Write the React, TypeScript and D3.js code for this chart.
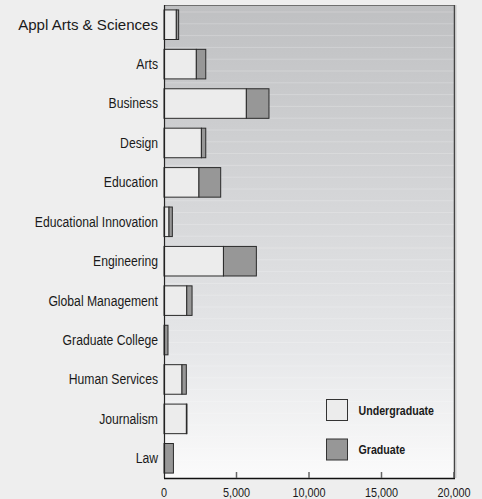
import React from "react";
import * as d3 from "d3";

const categories = [
  "Appl Arts & Sciences",
  "Arts",
  "Business",
  "Design",
  "Education",
  "Educational Innovation",
  "Engineering",
  "Global Management",
  "Graduate College",
  "Human Services",
  "Journalism",
  "Law",
];
const undergraduate = [850, 2230, 5680, 2580, 2410, 345, 4100, 1570, 0, 1240, 1545, 0];
const graduate = [160, 650, 1560, 300, 1500, 230, 2270, 365, 275, 300, 40, 650];
const xTicks = [0, 5000, 10000, 15000, 20000];
const seriesNames = ["Undergraduate", "Graduate"];
const seriesColors = ["#ececec", "#979797"];

const W = 482;
const H = 499;
const M = { left: 164, right: 28, top: 5, bottom: 21 };
const FONT = "'Liberation Sans', Arial, sans-serif";

export default function App() {
  const x = d3.scaleLinear().domain([0, 20000]).range([M.left, W - M.right]);
  const y = d3
    .scaleBand<string>()
    .domain(categories)
    .range([M.top, H - M.bottom])
    .paddingInner(0.25)
    .paddingOuter(0.125);
  const rows = categories.map((c, i) => ({ c, u: undergraduate[i], g: graduate[i] }));
  const stripes = d3.range(M.top + 7, H - M.bottom, 11.8);
  return (
    <svg
      width={W}
      height={H}
      style={{ position: "absolute", left: 0, top: 0, display: "block" }}
      fontFamily={FONT}
    >
      <defs>
        <linearGradient id="bg" x1="0" y1="0" x2="0" y2="1">
          <stop offset="0" stopColor="#bfc0c2" />
          <stop offset="0.3" stopColor="#cfd0d2" />
          <stop offset="0.73" stopColor="#e6e7e9" />
          <stop offset="1" stopColor="#fbfbfb" />
        </linearGradient>
      </defs>
      <rect x={0} y={0} width={W} height={H} fill="#eeeeee" />
      <rect
        x={M.left}
        y={M.top}
        width={W - M.left - M.right}
        height={H - M.top - M.bottom}
        fill="url(#bg)"
      />
      {stripes.map((s, i) => (
        <line
          key={i}
          x1={M.left}
          x2={W - M.right}
          y1={s}
          y2={s}
          stroke="#ffffff"
          strokeOpacity={0.22}
          strokeWidth={1}
        />
      ))}
      {/* frame */}
      <line x1={M.left} x2={W - M.right} y1={M.top + 0.5} y2={M.top + 0.5} stroke="#6f6f6f" />
      <line
        x1={W - M.right + 0.5}
        x2={W - M.right + 0.5}
        y1={M.top}
        y2={H - M.bottom}
        stroke="#444"
        strokeWidth={1.5}
      />
      <line
        x1={W - M.right + 2}
        x2={W - M.right + 2}
        y1={M.top}
        y2={H - M.bottom}
        stroke="#c8c8c8"
        strokeWidth={1}
      />
      {/* bars */}
      {rows.map((r) => {
        const yy = y(r.c)!;
        const bh = y.bandwidth();
        return (
          <g key={r.c}>
            {r.u > 0 && (
              <rect
                x={x(0)}
                y={yy}
                width={x(r.u) - x(0)}
                height={bh}
                fill={seriesColors[0]}
                stroke="#2a2a2a"
                strokeWidth={1}
              />
            )}
            {r.g > 0 && (
              <rect
                x={x(r.u)}
                y={yy}
                width={x(r.u + r.g) - x(r.u)}
                height={bh}
                fill={seriesColors[1]}
                stroke="#2a2a2a"
                strokeWidth={1}
              />
            )}
          </g>
        );
      })}
      {/* category labels */}
      {categories.map((c, i) => (
        <text
          key={c}
          transform={`translate(${M.left - 6},${y(c)! + y.bandwidth() / 2}) scale(${i === 0 ? 1.04 : 0.87},1)`}
          dy="0.35em"
          textAnchor="end"
          fontSize={i === 0 ? 14.5 : 14}
          fill="#1a1a1a"
        >
          {c}
        </text>
      ))}
      {/* axes */}
      <line x1={M.left + 0.5} x2={M.left + 0.5} y1={M.top} y2={H - M.bottom} stroke="#222" strokeWidth={1.2} />
      <line x1={M.left} x2={W - M.right + 1} y1={H - M.bottom + 0.5} y2={H - M.bottom + 0.5} stroke="#111" strokeWidth={1.5} />
      {xTicks.map((t) => (
        <g key={t}>
          {t > 0 && (
            <line
              x1={x(t)}
              x2={x(t)}
              y1={H - M.bottom}
              y2={H - M.bottom - 6}
              stroke={t === 20000 ? "#555" : "#666"}
              strokeWidth={1.5}
            />
          )}
          <text
            transform={`translate(${x(t)},${H - 2}) scale(0.87,1)`}
            textAnchor="middle"
            fontSize={12.5}
            fill="#1a1a1a"
          >
            {d3.format(",")(t)}
          </text>
        </g>
      ))}
      {/* legend */}
      {seriesNames.map((n, i) => (
        <g key={n} transform={`translate(326.5, ${399.5 + i * 39.5})`}>
          <rect width={21} height={21} fill={seriesColors[i]} stroke="#333" strokeWidth={1} />
          <text
            transform={`translate(32,11) scale(0.85,1)`}
            dy="0.35em"
            fontSize={12.5}
            fontWeight="bold"
            fill="#1a1a1a"
          >
            {n}
          </text>
        </g>
      ))}
    </svg>
  );
}
